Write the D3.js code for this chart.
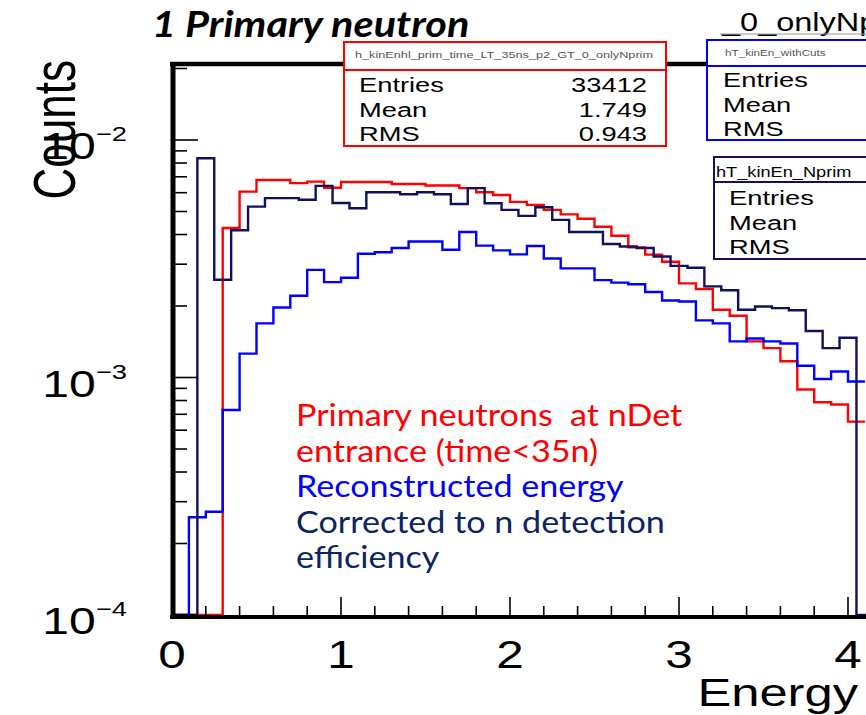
<!DOCTYPE html>
<html>
<head>
<meta charset="utf-8">
<title>1 Primary neutron</title>
<script src="https://cdn.jsdelivr.net/npm/d3@7"></script>
<style>
  body { margin: 0; background: #fff; }
  svg { display: block; }
  .root { font-family: "Liberation Sans", Arial, sans-serif; fill: #000; }
  .slide { font-family: Lato, "Open Sans", sans-serif; }
</style>
</head>
<body>
<svg id="chart" width="866" height="715"></svg>
<script>
// all three histograms use 0.1 wide energy bins
var binWidth = 0.1;

// red: primary neutrons at nDet entrance, first bin starts at 0.0
var redStart = 0.0;
var redCounts = [0, 0, 0, 4.26e-3, 6.06e-3, 6.79e-3, 6.79e-3, 6.58e-3, 6.68e-3, 6.29e-3,
  6.66e-3, 6.66e-3, 6.66e-3, 6.53e-3, 6.53e-3, 6.43e-3, 6.43e-3, 6.27e-3, 6.03e-3, 5.87e-3,
  5.49e-3, 5.33e-3, 5.08e-3, 4.86e-3, 4.66e-3, 4.31e-3, 3.95e-3, 3.53e-3, 3.29e-3, 3.07e-3,
  2.49e-3, 2.36e-3, 1.93e-3, 1.82e-3, 1.42e-3, 1.33e-3, 1.17e-3, 8.90e-4, 7.87e-4, 7.70e-4,
  6.52e-4];

// blue: reconstructed energy
var blueStart = 0.0;
var blueCounts = [0, 2.58e-4, 2.72e-4, 7.30e-4, 1.26e-3, 1.69e-3, 1.97e-3, 2.21e-3, 2.84e-3, 2.52e-3,
  2.63e-3, 3.32e-3, 3.37e-3, 3.51e-3, 3.74e-3, 3.74e-3, 3.45e-3, 4.10e-3, 3.59e-3, 3.43e-3,
  3.30e-3, 3.58e-3, 3.17e-3, 2.88e-3, 2.88e-3, 2.57e-3, 2.51e-3, 2.47e-3, 2.29e-3, 2.11e-3,
  2.09e-3, 1.74e-3, 1.69e-3, 1.42e-3, 1.46e-3, 1.42e-3, 1.39e-3, 1.12e-3, 9.86e-4, 1.06e-3,
  9.62e-4];

// navy: corrected to n detection efficiency (bins shifted by half a bin)
var navyStart = 0.05;
var navyCounts = [0, 8.38e-3, 2.58e-3, 4.17e-3, 5.24e-3, 5.69e-3, 5.69e-3, 5.60e-3, 6.41e-3, 5.43e-3,
  5.16e-3, 6.03e-3, 6.03e-3, 5.91e-3, 6.03e-3, 5.91e-3, 5.38e-3, 6.27e-3, 5.42e-3, 5.08e-3,
  4.79e-3, 5.21e-3, 4.61e-3, 4.10e-3, 4.10e-3, 3.65e-3, 3.56e-3, 3.51e-3, 3.23e-3, 2.95e-3,
  2.90e-3, 2.42e-3, 2.33e-3, 1.93e-3, 1.99e-3, 1.96e-3, 1.92e-3, 1.57e-3, 1.33e-3, 1.47e-3,
  0];

var xTickLabels = ["0", "1", "2", "3", "4"];
var yDecades = [-4, -3, -2];

var legendLines = [
  { text: "Primary neutrons\u00a0 at nDet", color: "#ff0000" },
  { text: "entrance (time<35n)", color: "#ff0000" },
  { text: "Reconstructed energy", color: "#0000ff" },
  { text: "Corrected to n detection", color: "#0b2463" },
  { text: "efficiency", color: "#0b2463" }
];

var statNames = ["Entries", "Mean", "RMS"];
var redStatValues = ["33412", "1.749", "0.943"];

var svg = d3.select("#chart");
var W = 866, H = 715;
var left = 172, bottom = 615, plotTop = 64;

var x = d3.scaleLinear().domain([0, 4]).range([left, 848]);
var y = d3.scaleLog().domain([1e-4, 1e-2]).range([bottom, 140]);

// the ROOT picture was stretched sideways, so text is widened
var sx = 1.3;
function rtext(g, px, py, str, size, anchor) {
  return g.append("text")
    .attr("class", "root")
    .attr("transform", "translate(" + px + "," + py + ") scale(" + sx + ",1)")
    .attr("text-anchor", anchor || "start")
    .style("font-size", size + "px")
    .text(str);
}

svg.append("defs").append("clipPath").attr("id", "plotclip")
  .append("rect").attr("x", left).attr("y", plotTop).attr("width", W - left).attr("height", bottom - plotTop + 1);

// histograms
function histPoints(start, counts) {
  var pts = [];
  counts.forEach(function (c, i) {
    var x0 = start + i * binWidth;
    var yy = c > 0 ? y(c) : bottom;
    pts.push([x(x0), yy]);
    pts.push([x(x0 + binWidth), yy]);
  });
  if (start > 0) pts.unshift([x(0), bottom]);
  return pts;
}

var line = d3.line();
var hg = svg.append("g").attr("clip-path", "url(#plotclip)");
[
  { s: redStart, c: redCounts, col: "#ff0000" },
  { s: blueStart, c: blueCounts, col: "#0000ff" },
  { s: navyStart, c: navyCounts, col: "#10105e" }
].forEach(function (h) {
  hg.append("path")
    .attr("d", line(histPoints(h.s, h.c)))
    .attr("fill", "none")
    .attr("stroke", h.col)
    .attr("stroke-width", 2.4);
});

// frame
svg.append("line").attr("x1", 170).attr("x2", W).attr("y1", plotTop).attr("y2", plotTop)
  .attr("stroke", "#000").attr("stroke-width", 4.5);
svg.append("line").attr("x1", 173).attr("x2", 173).attr("y1", plotTop - 2).attr("y2", bottom + 4)
  .attr("stroke", "#000").attr("stroke-width", 5);
svg.append("line").attr("x1", 170).attr("x2", W).attr("y1", bottom + 2).attr("y2", bottom + 2)
  .attr("stroke", "#000").attr("stroke-width", 4);

// y ticks (inside)
var ax = svg.append("g");
yDecades.forEach(function (p) {
  for (var m = 1; m <= 9; m++) {
    var v = m * Math.pow(10, p);
    if (y(v) < plotTop + 2) continue;
    ax.append("line").attr("x1", 174).attr("x2", m === 1 ? 198 : 187)
      .attr("y1", y(v)).attr("y2", y(v)).attr("stroke", "#000").attr("stroke-width", 1.6);
  }
  var t = rtext(ax, 127, y(Math.pow(10, p)) + 19, "10", 37, "end");
  t.append("tspan").attr("dy", -18).style("font-size", "21px").text("\u2212" + (-p));
});

// x ticks (inside)
d3.range(0, 4.01, 0.2).forEach(function (v) {
  var major = Math.abs(v - Math.round(v)) < 1e-6;
  ax.append("line").attr("x1", x(v)).attr("x2", x(v))
    .attr("y1", bottom).attr("y2", bottom - (major ? 18 : 9))
    .attr("stroke", "#000").attr("stroke-width", 1.6);
});
xTickLabels.forEach(function (lab, i) {
  rtext(ax, x(i), 668, lab, 38, "middle");
});

// axis titles
rtext(ax, 858, 706, "Energy", 39, "end");
ax.append("text").attr("class", "root")
  .attr("transform", "translate(75,60) rotate(-90) scale(1,1.35)")
  .attr("text-anchor", "end")
  .style("font-size", "44px")
  .text("Counts");

// stats boxes
var sb = svg.append("g");
// red box
sb.append("rect").attr("x", 344).attr("y", 42).attr("width", 322).attr("height", 104)
  .attr("fill", "#fff").attr("stroke", "#ff0000").attr("stroke-width", 2);
sb.append("line").attr("x1", 344).attr("x2", 666).attr("y1", 70).attr("y2", 70)
  .attr("stroke", "#ff0000").attr("stroke-width", 2);
sb.append("text").attr("class", "root").attr("x", 355).attr("y", 58)
  .attr("textLength", 298).attr("lengthAdjust", "spacingAndGlyphs")
  .style("font-size", "9px").style("fill", "#555")
  .text("h_kinEnhl_prim_time_LT_35ns_p2_GT_0_onlyNprim");
statNames.forEach(function (n, i) {
  rtext(sb, 359, 92 + i * 24.5, n, 21, "start");
  rtext(sb, 647, 92 + i * 24.5, redStatValues[i], 21, "end");
});

// canvas title remains (top right)
rtext(sb, 722, 31, "_0_onlyNprim", 25, "start");
sb.append("line").attr("x1", 720).attr("x2", W).attr("y1", 34).attr("y2", 34)
  .attr("stroke", "#999").attr("stroke-width", 1.2);

// blue box (cut off at right)
sb.append("rect").attr("x", 707).attr("y", 40).attr("width", 200).attr("height", 100)
  .attr("fill", "#fff").attr("stroke", "#0000ff").attr("stroke-width", 2);
sb.append("line").attr("x1", 707).attr("x2", W).attr("y1", 66).attr("y2", 66)
  .attr("stroke", "#0000ff").attr("stroke-width", 2);
rtext(sb, 725, 56, "hT_kinEn_withCuts", 9, "start").style("fill", "#555");
statNames.forEach(function (n, i) {
  rtext(sb, 723, 87 + i * 24.5, n, 21, "start");
});

// navy box
sb.append("rect").attr("x", 714).attr("y", 157).attr("width", 200).attr("height", 102)
  .attr("fill", "#fff").attr("stroke", "#10105e").attr("stroke-width", 2);
sb.append("line").attr("x1", 714).attr("x2", W).attr("y1", 182).attr("y2", 182)
  .attr("stroke", "#10105e").attr("stroke-width", 2);
rtext(sb, 716, 177, "hT_kinEn_Nprim", 14, "start");
statNames.forEach(function (n, i) {
  rtext(sb, 729, 205 + i * 24.5, n, 21, "start");
});

// slide annotations
svg.append("text").attr("class", "slide")
  .attr("transform", "translate(152,37) scale(1.15,1)")
  .style("font-size", "36px").style("font-weight", "bold").style("font-style", "italic")
  .text("1 Primary neutron");

var lg = svg.append("g").attr("class", "slide").style("font-size", "31px");
legendLines.forEach(function (l, i) {
  lg.append("text")
    .attr("transform", "translate(296," + (426 + i * 35.5) + ") scale(1.1,1)")
    .attr("fill", l.color).text(l.text);
});
</script>
</body>
</html>
